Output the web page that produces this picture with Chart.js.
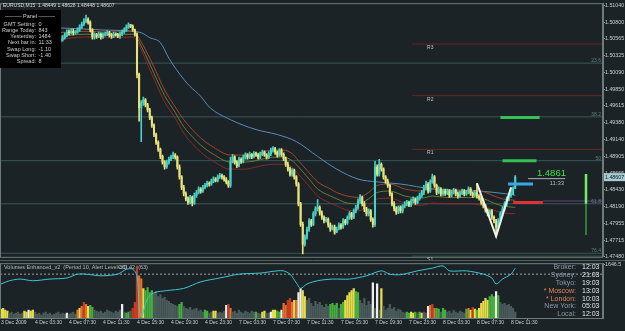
<!DOCTYPE html>
<html lang="en">
<head>
<meta charset="UTF-8">
<title>EURUSD M15</title>
<script src="https://cdn.jsdelivr.net/npm/chart.js"></script>
<style>
  body { margin: 0; background: #1b2327; width: 625px; height: 331px; overflow: hidden; position: relative; }
  canvas { position: absolute; left: 0; }
  #priceChart { top: 0; }
  #volChart { top: 260px; }
</style>
</head>
<body>
<canvas id="priceChart" width="625" height="260"></canvas>
<canvas id="volChart" width="625" height="71"></canvas>
<script>
// ---- price data (M15 bars, 3 Dec 23:30 .. 8 Dec 12:00) ----
const firstOpen = 1.5054;
const closes = [
  1.5055,1.5053,1.5052,1.5055,1.5056,1.5053,1.5051,1.5049,1.5052,1.5053,
  1.5055,1.5052,1.5049,1.5048,1.5051,1.5052,1.5053,1.5055,1.5052,1.5051,
  1.5053,1.5055,1.5056,1.5053,1.5052,1.5055,1.5052,
  1.5053,1.5055,1.5058,1.5062,1.5066,1.5065,1.5067,1.5065,1.5066,1.5069,
  1.5073,1.5077,1.5081,1.5084,
  1.5080,1.5069,1.5059,
  1.5062,1.5060,1.5063,1.5059,1.5062,1.5063,1.5065,1.5062,1.5060,1.5063,1.5062,1.5060,1.5063,1.5066,1.5069,
  1.5073,1.5076,1.5074,
  1.5069,1.5063,
  1.5006,1.4959,1.4966,1.4970,1.4963,
  1.4956,1.4945,1.4934,1.4921,
  1.4910,1.4900,1.4890,1.4882,1.4875,
  1.4882,1.4886,1.4889,1.4892,1.4889,
  1.4875,1.4861,1.4846,1.4837,
  1.4830,1.4825,1.4832,1.4824,
  1.4835,1.4839,1.4844,1.4841,
  1.4846,1.4849,1.4852,1.4851,1.4855,1.4858,1.4856,1.4861,1.4863,1.4861,1.4858,1.4854,1.4849,
  1.4883,
  1.4889,1.4882,1.4877,1.4886,1.4883,1.4889,
  1.4892,1.4889,1.4893,1.4890,1.4894,1.4892,1.4889,1.4893,1.4896,1.4892,1.4889,1.4894,1.4899,1.4901,
  1.4896,1.4892,1.4899,1.4893,1.4887,
  1.4879,1.4872,1.4865,
  1.4870,1.4861,1.4851,
  1.4823,1.4794,1.4766,
  1.4776,1.4787,1.4799,1.4794,1.4809,1.4816,1.4818,
  1.4810,1.4804,1.4799,1.4801,1.4793,1.4787,1.4790,1.4783,1.4787,
  1.4793,1.4790,1.4799,1.4796,1.4803,1.4809,1.4804,1.4813,1.4818,1.4827,
  1.4832,1.4823,1.4816,1.4809,1.4813,1.4801,1.4794,
  1.4875,
  1.4865,1.4879,1.4872,1.4861,1.4855,1.4849,
  1.4837,1.4823,1.4816,1.4811,1.4818,1.4813,
  1.4820,1.4823,1.4825,1.4821,1.4827,1.4830,1.4825,1.4831,1.4835,1.4839,
  1.4846,1.4851,1.4841,1.4854,1.4861,
  1.4849,1.4839,1.4844,1.4837,1.4841,
  1.4838,1.4841,1.4835,1.4839,1.4842,1.4837,1.4834,1.4838,1.4841,1.4837,1.4839,1.4844,1.4838,1.4835,1.4839,1.4834,1.4831,
  1.4825,1.4820,1.4814,1.4809,1.4813,1.4804,1.4799,1.4790,
  1.4799,1.4809,1.4816,1.4823,1.4830,1.4835,1.4837,1.48449,
  1.48607
];
const highs = [
  1.5058,1.5057,1.5056,1.5058,1.5059,1.5058,1.5056,1.5053,1.5055,1.5056,
  1.5058,1.5057,1.5054,1.5052,1.5054,1.5055,1.5056,1.5058,1.5057,1.5055,
  1.5056,1.5058,1.5059,1.5058,1.5055,1.5058,1.5057,
  1.5056,1.5058,1.5061,1.5065,1.5069,1.5069,1.5070,1.5070,1.5068,1.5072,
  1.5076,1.5080,1.5085,1.5090,
  1.5086,1.5082,1.5071,
  1.5065,1.5064,1.5066,1.5065,1.5065,1.5066,1.5068,1.5067,1.5064,1.5066,1.5065,1.5064,1.5066,1.5069,1.5072,
  1.5076,1.5079,1.5077,
  1.5076,1.5070,
  1.5065,1.5008,1.4969,1.4974,1.4972,
  1.4965,1.4958,1.4947,1.4936,
  1.4923,1.4912,1.4902,1.4892,1.4884,
  1.4885,1.4889,1.4892,1.4896,1.4894,
  1.4891,1.4878,1.4863,1.4849,
  1.4840,1.4833,1.4835,1.4834,
  1.4838,1.4842,1.4847,1.4846,
  1.4849,1.4852,1.4855,1.4854,1.4858,1.4861,1.4860,1.4864,1.4866,1.4865,1.4863,1.4860,1.4856,
  1.4889,
  1.4893,1.4891,1.4884,1.4889,1.4888,1.4892,
  1.4895,1.4894,1.4896,1.4894,1.4897,1.4896,1.4894,1.4896,1.4899,1.4898,1.4894,1.4897,1.4902,1.4904,
  1.4903,1.4898,1.4901,1.4901,1.4895,
  1.4889,1.4882,1.4875,
  1.4873,1.4872,1.4863,
  1.4853,1.4825,1.4797,
  1.4779,1.4790,1.4802,1.4801,1.4812,1.4819,1.4829,
  1.4820,1.4813,1.4806,1.4804,1.4803,1.4796,1.4793,1.4793,1.4790,
  1.4796,1.4795,1.4802,1.4801,1.4806,1.4812,1.4811,1.4816,1.4821,1.4830,
  1.4836,1.4834,1.4826,1.4818,1.4816,1.4815,1.4803,
  1.4883,
  1.4878,1.4886,1.4881,1.4874,1.4863,1.4858,
  1.4851,1.4839,1.4826,1.4819,1.4820,1.4820,
  1.4822,1.4826,1.4828,1.4827,1.4830,1.4833,1.4831,1.4834,1.4838,1.4842,
  1.4849,1.4855,1.4853,1.4857,1.4865,
  1.4863,1.4851,1.4847,1.4846,1.4844,
  1.4844,1.4844,1.4843,1.4842,1.4845,1.4844,1.4840,1.4841,1.4844,1.4843,1.4842,1.4847,1.4846,1.4840,1.4842,1.4852,1.4836,
  1.4834,1.4828,1.4822,1.4816,1.4815,1.4815,1.4806,1.4801,
  1.4802,1.4812,1.4819,1.4826,1.4833,1.4838,1.4846,1.4847,
  1.48628
];
const lows = [
  1.5051,1.5050,1.5049,1.5050,1.5052,1.5050,1.5048,1.5046,1.5047,1.5050,
  1.5051,1.5049,1.5046,1.5045,1.5046,1.5049,1.5050,1.5051,1.5049,1.5048,
  1.5049,1.5051,1.5053,1.5050,1.5049,1.5050,1.5049,
  1.5049,1.5051,1.5053,1.5056,1.5059,1.5062,1.5063,1.5062,1.5063,1.5064,
  1.5067,1.5071,1.5075,1.5079,
  1.5077,1.5066,1.5056,
  1.5056,1.5057,1.5058,1.5056,1.5057,1.5060,1.5061,1.5059,1.5057,1.5058,1.5060,1.5058,1.5057,1.5061,1.5064,
  1.5067,1.5071,1.5072,
  1.5067,1.5060,
  1.5001,1.4940,1.4911,1.4962,1.4960,
  1.4953,1.4942,1.4931,1.4918,
  1.4907,1.4897,1.4887,1.4879,1.4872,
  1.4873,1.4879,1.4884,1.4887,1.4886,
  1.4872,1.4858,1.4843,1.4834,
  1.4827,1.4822,1.4823,1.4820,
  1.4822,1.4832,1.4837,1.4838,
  1.4839,1.4844,1.4847,1.4848,1.4849,1.4853,1.4854,1.4854,1.4859,1.4858,1.4855,1.4851,1.4846,
  1.4846,
  1.4881,1.4879,1.4874,1.4875,1.4880,1.4881,
  1.4886,1.4886,1.4887,1.4887,1.4888,1.4890,1.4886,1.4887,1.4891,1.4890,1.4886,1.4887,1.4891,1.4896,
  1.4893,1.4889,1.4890,1.4890,1.4884,
  1.4876,1.4869,1.4862,
  1.4862,1.4858,1.4848,
  1.4820,1.4791,1.4752,
  1.4763,1.4773,1.4784,1.4791,1.4792,1.4806,1.4813,
  1.4807,1.4801,1.4796,1.4797,1.4790,1.4784,1.4786,1.4780,1.4782,
  1.4786,1.4787,1.4788,1.4793,1.4794,1.4801,1.4801,1.4802,1.4810,1.4815,
  1.4824,1.4820,1.4812,1.4806,1.4806,1.4798,1.4790,
  1.4791,
  1.4862,1.4862,1.4869,1.4858,1.4852,1.4846,
  1.4834,1.4820,1.4813,1.4808,1.4809,1.4810,
  1.4810,1.4817,1.4820,1.4819,1.4819,1.4824,1.4822,1.4823,1.4828,1.4832,
  1.4836,1.4843,1.4838,1.4839,1.4852,
  1.4846,1.4836,1.4837,1.4834,1.4835,
  1.4835,1.4836,1.4832,1.4833,1.4837,1.4834,1.4831,1.4832,1.4836,1.4834,1.4835,1.4837,1.4835,1.4832,1.4833,1.4831,1.4828,
  1.4822,1.4817,1.4811,1.4806,1.4806,1.4801,1.4796,1.4777,
  1.4787,1.4796,1.4806,1.4813,1.4820,1.4827,1.4832,1.4836,
  1.48448
];

// moving averages, read at sample bars
const maIdx = [0,26,47,62,66,70,75,79,86,89,94,98,108,120,130,139,149,158,168,177,188,203,225,238,242];
const maSlow = [1.5073,1.5072,1.5069,1.5067,1.5065,1.5058,1.5051,1.5029,1.4999,1.4989,1.4975,1.4960,1.4942,
  1.4928,1.4921,1.4911,1.4890,1.4872,1.4858,1.4854,1.4851,1.4844,1.4841,1.4837,1.4835];
const envIdx = [0,26,40,50,62,64,66,68,70,73,77,82,86,90,94,100,108,115,120,128,133,137,140,145,149,
  155,158,163,168,173,177,183,190,198,203,210,220,226,232,236,242];
const envUpper = [1.5065,1.5065,1.5067,1.5066,1.5067,1.5062,1.5052,1.5041,1.5029,1.5010,1.4984,1.4960,1.4942,
  1.4928,1.4916,1.4903,1.4892,1.4892,1.4894,1.4899,1.4899,1.4894,1.4884,1.4867,1.4854,1.4844,1.4839,1.4834,
  1.4832,1.4839,1.4849,1.4851,1.4844,1.4841,1.4844,1.4842,1.4842,1.4841,1.4834,1.4830,1.4828];
const envMid = [1.5060,1.5060,1.5063,1.5062,1.5063,1.5058,1.5046,1.5034,1.5021,1.5001,1.4976,1.4952,1.4932,
  1.4918,1.4906,1.4893,1.4882,1.4882,1.4884,1.4889,1.4889,1.4884,1.4875,1.4858,1.4844,1.4834,1.4830,1.4824,
  1.4823,1.4830,1.4839,1.4841,1.4834,1.4831,1.4834,1.4832,1.4832,1.4831,1.4824,1.4820,1.4818];
const envLower = [1.5056,1.5056,1.5059,1.5058,1.5059,1.5053,1.5041,1.5027,1.5013,1.4993,1.4967,1.4944,1.4923,
  1.4908,1.4896,1.4883,1.4872,1.4872,1.4875,1.4879,1.4879,1.4875,1.4865,1.4848,1.4834,1.4824,1.4820,1.4814,
  1.4813,1.4820,1.4830,1.4831,1.4824,1.4821,1.4824,1.4823,1.4823,1.4821,1.4814,1.4810,1.4809];

// zigzag
const zigIdx = [224, 233, 240];
const zigPrice = [1.4852, 1.4777, 1.4846];

// levels
const priceTicks = [1.51040,1.50800,1.50565,1.50325,1.50090,1.49850,1.49615,1.49380,
  1.49140,1.48905,1.48665,1.48430,1.48190,1.47955,1.47715,1.47480];
const pivotNames = ['R3', 'R2', 'R1', 'S1'];
const pivotLevels = [1.5049, 1.4976, 1.4900, 1.4749];
const fibNames = ['23.6', '38.2', '50', '61.8', '76.4'];
const fibLevels = [1.5022, 1.4946, 1.4884, 1.4823, 1.4753];
const dayOpenLevel = 1.4827;
const targetUp = [1.4945, 1.4884];
const entryLevel = 1.4851;
const stopLevel = 1.4825;
const rangeBar = [1.4865, 1.4823, 1.4779];

// panel
const panelLabels = ['GMT Setting:', 'Range Today:', 'Yesterday:', 'Next bar in:', 'Swap Long:', 'Swap Short:', 'Spread:'];
const panelValues = ['0', '843', '1484', '11:33', '-1.10', '-1.40', '8'];

// ---- volume window ----
const volumes = [
  270,300,240,210,
  150,180,120,150,180,120,150,
  210,180,240,210,240,180,
  120,150,90,150,180,120,150,90,120,150,180,120,150,120,
  150,120,
  150,180,120,
  240,300,360,480,420,360,390,330,240,210,
  180,210,150,180,240,210,180,150,210,180,240,
  420,180,150,180,210,300,480,1590,1290,1200,900,840,930,780,840,
  750,810,660,720,600,630,540,510,450,420,390,360,
  420,480,
  360,300,270,330,240,270,300,210,240,
  180,240,210,150,180,210,210,150,180,150,210,
  390,420,300,
  180,210,150,240,180,150,210,180,150,210,180,
  180,150,120,180,210,150,
  150,180,240,240,210,180,
  240,450,390,540,600,480,540,540,780,900,840,660,
  540,600,450,360,510,420,480,390,330,420,360,
  420,450,390,450,
  300,420,480,540,690,780,840,900,810,780,
  540,450,600,390,510,420,
  1080,300,1050,240,900,
  360,240,300,420,270,330,210,270,240,
  180,150,180,150,180,150,180,150,180,150,180,
  150,360,390,420,300,
  300,270,180,300,240,
  180,210,150,240,180,150,210,180,150,
  270,300,240,330,270,240,
  300,450,510,600,540,
  660,720,660,810,690,
  480,420,450,390,420,360,300,180
];
// n neutral, g green, y yellow, o orange, r red, w white
const volTypes = (
  'yyyy' + 'nnnnnnn' + 'yywyyn' + 'nnnnnnnnnnnnnn' + 'wn' + 'nnn' + 'oyoroyggnn' +
  'nnnnnnnnnnn' + 'wnggnrrrooygggg' + 'nnnnnnnnnnnn' + 'gg' + 'nnnnnnnnn' + 'nggnnyynnnn' +
  'wro' + 'nnnnnnnnnnn' + 'gnnyyn' + 'nwyygg' + 'woorroyowwyy' + 'nnnnnnnnnnn' + 'gggg' +
  'nggyyyyygg' + 'nnnnnn' + 'wnwny' + 'nnnnnnnnn' + 'nnggyygngyn' + 'nworo' + 'ggngg' +
  'nnnnnnnnn' + 'goyryg' + 'yyyyy' + 'gggwg' + 'nnnnnnnn').split('');
const oscIdx = [0,4,9,15,23,31,36,40,47,55,59,62,64,65,66,69,72,78,86,94,103,112,122,130,133,136,139,141,
  144,149,156,164,172,179,183,188,196,203,208,211,219,227,231,233,236,240,242];
const oscVals = [62,68,71,68,71,73,80,80,77,80,89,89,77,23,2,36,46,50,54,66,73,80,82,86,86,80,64,54,
  62,68,71,71,77,86,80,79,86,91,95,86,86,80,73,62,71,80,91];
const oscLevel = 80;
const volAxisTop = 1646.5;

const xTickIdx = [0,16,32,48,64,80,96,112,128,144,160,176,192,208,224,240];
const xTickLabels = ['3 Dec 2009','4 Dec 03:30','4 Dec 07:30','4 Dec 11:30','4 Dec 15:30','4 Dec 19:30',
  '4 Dec 23:30','7 Dec 03:30','7 Dec 07:30','7 Dec 11:30','7 Dec 15:30','7 Dec 19:30',
  '7 Dec 23:30','8 Dec 03:30','8 Dec 07:30','8 Dec 11:30'];

const clockNames = ['Broker:', 'Sydney:', 'Tokyo:', '* Moscow:', '* London:', 'New York:', 'Local:'];
const clockTimes = ['12:03', '21:03', '19:03', '13:03', '10:03', '05:03', '12:03'];

// ---- drawing ----
const BG = '#1b2327';
const FRAME = '#6c7c7c';
const FONT = '"Liberation Sans", "DejaVu Sans", sans-serif';
const BULL = '#46d2c8', BEAR = '#e8e37a';
const X_MIN = -0.47, X_MAX = 283.3;

Chart.defaults.font.family = FONT;
Chart.defaults.animation = false;
Chart.defaults.plugins.legend.display = false;
Chart.defaults.plugins.tooltip.enabled = false;

const opens = closes.map((c, i) => i === 0 ? firstOpen : closes[i - 1]);
const candleColors = closes.map((c, i) => c >= opens[i] ? BULL : BEAR);
const last = closes.length - 1;

function hLine(v, from, to, color, width, order) {
  return {
    type: 'line', data: [{x: from, y: v}, {x: to, y: v}],
    borderColor: color, borderWidth: width, pointRadius: 0, order: order
  };
}
function curve(idx, vals, color, order) {
  return {
    type: 'line', data: idx.map((x, k) => ({x: x, y: vals[k]})),
    borderColor: color, borderWidth: 1, pointRadius: 0,
    tension: 0.4, cubicInterpolationMode: 'monotone', order: order
  };
}

const bgPlugin = {
  id: 'bg',
  beforeDraw(chart) {
    const c = chart.ctx;
    c.save();
    c.fillStyle = BG;
    c.fillRect(0, 0, chart.width, chart.height);
    c.restore();
  }
};

const priceOverlay = {
  id: 'priceOverlay',
  afterDraw(chart) {
    const {ctx, chartArea: a, scales: {x, y}} = chart;
    ctx.save();
    ctx.strokeStyle = FRAME;
    ctx.lineWidth = 1;
    ctx.strokeRect(a.left + 0.5, a.top + 0.5, a.right - a.left - 1, a.bottom - a.top);

    // pivot names under their lines
    ctx.font = '5px ' + FONT;
    ctx.fillStyle = '#c4c4c4';
    ctx.textBaseline = 'top';
    ctx.textAlign = 'left';
    pivotNames.forEach((n, k) => {
      ctx.fillText(n, x.getPixelForValue(200.5), y.getPixelForValue(pivotLevels[k]) + 1);
    });
    // fibo names at right end
    ctx.fillStyle = '#5f8080';
    ctx.textAlign = 'right';
    ctx.textBaseline = 'bottom';
    fibNames.forEach((n, k) => {
      ctx.fillText(n, a.right - 2, y.getPixelForValue(fibLevels[k]));
    });

    // symbol title
    ctx.textAlign = 'left';
    ctx.textBaseline = 'top';
    ctx.fillStyle = '#dadada';
    const quote = [closes[last - 1], highs[last], lows[last], closes[last]].map(v => v.toFixed(5)).join(' ');
    ctx.fillText('EURUSD,M15  ' + quote, 3, 3);

    // info panel
    ctx.fillStyle = '#000000';
    ctx.fillRect(0, 10, 61, 58);
    ctx.font = '5.5px ' + FONT;
    ctx.fillStyle = '#cfcfcf';
    ctx.textAlign = 'center';
    ctx.textBaseline = 'middle';
    ctx.fillText('——— Panel ———', 30, 16);
    panelLabels.forEach((lab, k) => {
      const ty = 24 + k * 6.3;
      ctx.textAlign = 'right';
      ctx.fillText(lab, 36, ty);
      ctx.textAlign = 'left';
      ctx.fillText(panelValues[k], 38.5, ty);
    });

    // current price marker on the axis
    const py = y.getPixelForValue(closes[last]);
    ctx.fillStyle = '#a9cdd0';
    ctx.fillRect(a.right + 1, py - 4, chart.width - a.right - 1, 8);
    ctx.fillStyle = '#0e1a1c';
    ctx.font = '5.3px ' + FONT;
    ctx.textAlign = 'left';
    ctx.fillText(closes[last].toFixed(5), a.right + 2, py);

    // last price and time left
    ctx.font = '9.5px ' + FONT;
    ctx.fillStyle = '#46e046';
    ctx.textBaseline = 'alphabetic';
    ctx.fillText(closes[last].toFixed(4), x.getPixelForValue(252.2), py - 1);
    ctx.strokeStyle = '#b0b0b0';
    ctx.beginPath();
    ctx.moveTo(x.getPixelForValue(248), py + 1.5);
    ctx.lineTo(x.getPixelForValue(265.5), py + 1.5);
    ctx.stroke();
    ctx.font = '6px ' + FONT;
    ctx.fillStyle = '#b8b8b8';
    ctx.textAlign = 'right';
    ctx.textBaseline = 'top';
    ctx.fillText(panelValues[3], x.getPixelForValue(265), py + 3);
    ctx.restore();
  }
};

const priceDatasets = [];
fibLevels.forEach(v => priceDatasets.push(hLine(v, X_MIN, X_MAX, '#35585a', 1, 20)));
pivotLevels.forEach((v, k) => priceDatasets.push(
  hLine(v, 193.5, X_MAX, pivotNames[k][0] === 'R' ? '#6b2424' : '#44554a', 1, 19)));
priceDatasets.push(hLine(dayOpenLevel, 255, X_MAX, '#6c3a78', 1, 18));
priceDatasets.push(curve(maIdx, maSlow, '#5b8cb8', 10));
priceDatasets.push(curve(envIdx, envUpper, '#a4462c', 9));
priceDatasets.push(curve(envIdx, envMid, '#6f7a34', 9));
priceDatasets.push(curve(envIdx, envLower, '#8a2a26', 9));
priceDatasets.push({
  type: 'bar', data: highs.map((h, i) => ({x: i, y: [lows[i], h]})),
  backgroundColor: candleColors, barThickness: 1, grouped: false, order: 4
});
priceDatasets.push({
  type: 'bar', data: closes.map((c, i) => ({x: i, y: [opens[i], c]})),
  backgroundColor: candleColors, barThickness: 1.4, grouped: false, order: 3
});
priceDatasets.push({
  type: 'line', data: zigIdx.map((x, k) => ({x: x, y: zigPrice[k]})),
  borderColor: '#f2f2f2', borderWidth: 2, pointRadius: 0, order: 2
});
priceDatasets.push(hLine(targetUp[0], 235, 253.5, '#34c052', 3, 1));
priceDatasets.push(hLine(targetUp[1], 236, 252, '#34c052', 3, 1));
priceDatasets.push(hLine(entryLevel, 238.6, 250.4, '#3aa6e8', 3, 1));
priceDatasets.push(hLine(stopLevel, 241, 255, '#e03232', 3, 1));
priceDatasets.push({
  type: 'line', data: [{x: 275.3, y: rangeBar[0]}, {x: 275.3, y: rangeBar[1]}],
  borderColor: '#6cf06c', borderWidth: 2.5, pointRadius: 0, order: 1
});
priceDatasets.push({
  type: 'line', data: [{x: 275.3, y: rangeBar[1]}, {x: 275.3, y: rangeBar[2]}],
  borderColor: '#3a9a3a', borderWidth: 1.5, pointRadius: 0, order: 1
});

new Chart(document.getElementById('priceChart'), {
  type: 'bar',
  data: {datasets: priceDatasets},
  options: {
    responsive: false,
    devicePixelRatio: 1,
    layout: {padding: {top: 3, bottom: 2, left: 0, right: 0}},
    scales: {
      x: {type: 'linear', display: false, min: X_MIN, max: X_MAX, offset: false},
      y: {
        type: 'linear', position: 'right', min: 1.4748, max: 1.51068,
        afterBuildTicks: s => { s.ticks = priceTicks.map(v => ({value: v})); },
        afterFit: s => { s.width = 22; },
        grid: {drawOnChartArea: false, tickLength: 2, color: '#8a9a9a'},
        border: {color: FRAME},
        ticks: {padding: 0, color: '#c8d0d0', font: {size: 5.3}, callback: v => v.toFixed(5)}
      }
    }
  },
  plugins: [bgPlugin, priceOverlay]
});

const VOL_COLORS = {n: '#4a5a5a', g: '#46ae3e', y: '#e6dd4a', o: '#e4702a', r: '#c63a22', w: '#eeeeee'};

const volOverlay = {
  id: 'volOverlay',
  afterDraw(chart) {
    const {ctx, chartArea: a} = chart;
    ctx.save();
    ctx.strokeStyle = FRAME;
    ctx.lineWidth = 1;
    ctx.strokeRect(a.left + 0.5, a.top + 0.5, a.right - a.left - 1, a.bottom - a.top);
    ctx.strokeStyle = '#4e5e5e';
    ctx.beginPath();
    ctx.moveTo(0, 0.5);
    ctx.lineTo(chart.width, 0.5);
    ctx.stroke();

    ctx.font = '5.5px ' + FONT;
    ctx.fillStyle = '#b6bebe';
    ctx.textBaseline = 'middle';
    ctx.textAlign = 'left';
    ctx.fillText('Volumes Enhanced_v2  (Period 10, Alert Level off)', 4, 7);
    ctx.fillText('CCI 42  (63)', 118, 7);

    ctx.font = '7px ' + FONT;
    clockNames.forEach((n, k) => {
      const ty = 7 + k * 7.9;
      ctx.textAlign = 'right';
      ctx.fillStyle = n[0] === '*' ? '#e4825a' : '#8c98a8';
      ctx.fillText(n, 576, ty);
      ctx.textAlign = 'left';
      ctx.fillStyle = '#e6e6e6';
      ctx.fillText(clockTimes[k], 582, ty);
    });
    ctx.restore();
  }
};

new Chart(document.getElementById('volChart'), {
  type: 'bar',
  data: {
    datasets: [
      {
        type: 'line', yAxisID: 'y2',
        data: [{x: X_MIN, y: oscLevel}, {x: X_MAX, y: oscLevel}],
        borderColor: '#9aa4a4', borderWidth: 1, borderDash: [2, 2], pointRadius: 0, order: 3
      },
      {
        type: 'bar', data: volumes.map((v, i) => ({x: i, y: v})),
        backgroundColor: volTypes.map(t => VOL_COLORS[t]), barThickness: 1.6, grouped: false, order: 2
      },
      {
        type: 'line', yAxisID: 'y2', data: oscIdx.map((x, k) => ({x: x, y: oscVals[k]})),
        borderColor: '#3ec6d2', borderWidth: 1, pointRadius: 0, tension: 0.3, order: 1
      }
    ]
  },
  options: {
    responsive: false,
    devicePixelRatio: 1,
    layout: {padding: {top: 2, bottom: 0, left: 0, right: 0}},
    scales: {
      x: {
        type: 'linear', min: X_MIN, max: X_MAX, offset: false,
        afterBuildTicks: s => { s.ticks = xTickIdx.map(v => ({value: v})); },
        afterFit: s => { s.height = 13; },
        grid: {drawOnChartArea: false, tickLength: 2, color: '#8a9a9a'},
        border: {color: FRAME},
        ticks: {
          align: 'start', maxRotation: 0, autoSkip: false, padding: 0,
          color: '#c8d0d0', font: {size: 5},
          callback: (v, i) => xTickLabels[i]
        }
      },
      y: {
        type: 'linear', position: 'right', min: 0, max: 1680,
        afterBuildTicks: s => { s.ticks = [{value: volAxisTop}]; },
        afterFit: s => { s.width = 22; },
        grid: {drawOnChartArea: false, tickLength: 2, color: '#8a9a9a'},
        border: {color: FRAME},
        ticks: {padding: 0, color: '#c8d0d0', font: {size: 5.3}, callback: v => v.toFixed(1)}
      },
      y2: {type: 'linear', display: false, min: 0, max: 100}
    }
  },
  plugins: [bgPlugin, volOverlay]
});
</script>
</body>
</html>
